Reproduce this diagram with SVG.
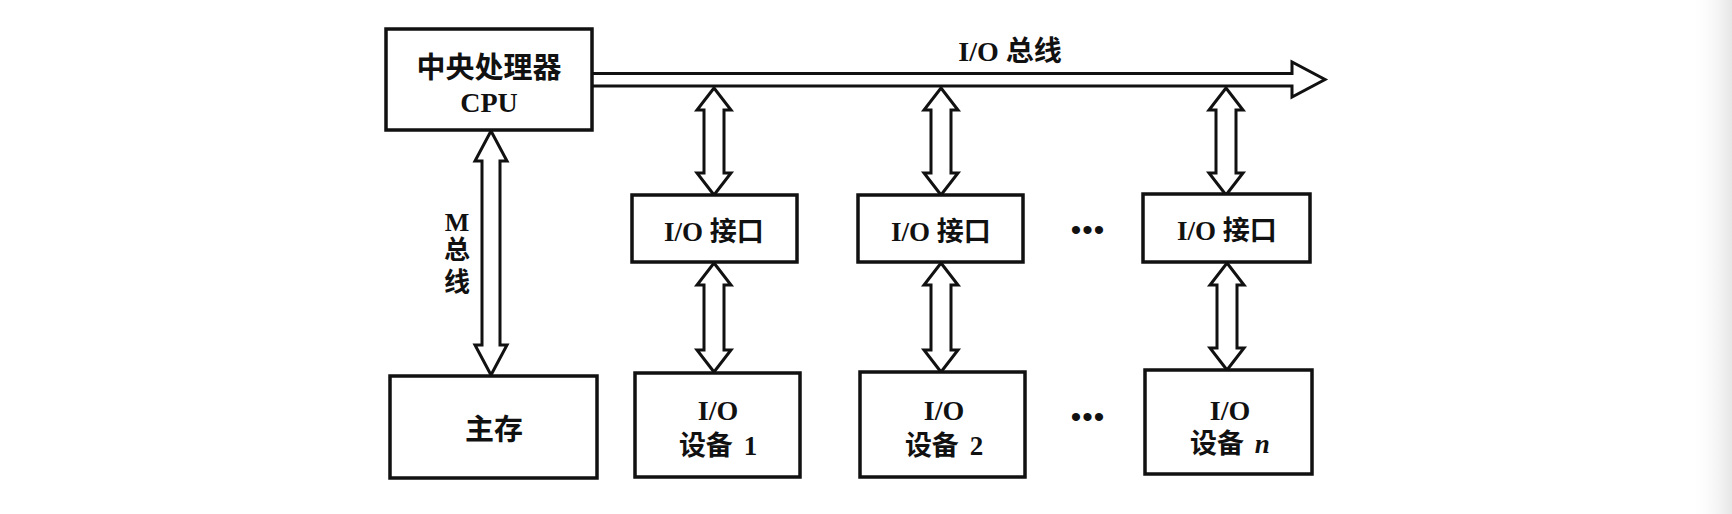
<svg xmlns="http://www.w3.org/2000/svg" width="1732" height="514" viewBox="0 0 1732 514">
<defs>
<linearGradient id="edge" x1="0" y1="0" x2="1" y2="0">
<stop offset="0" stop-color="#ffffff" stop-opacity="0"/>
<stop offset="1" stop-color="#e6e6e6" stop-opacity="1"/>
</linearGradient>
<style>
.box{fill:#fff;stroke:#111;stroke-width:3.5}
.arr{fill:#fff;stroke:#111;stroke-width:3;stroke-linejoin:miter}
.t{font-family:"Liberation Serif","Noto Sans CJK SC",serif;font-weight:bold;fill:#111;text-anchor:middle}
.dots{font-family:"Liberation Sans",sans-serif;fill:#111;text-anchor:middle;letter-spacing:1px}
</style>
</defs>
<rect x="0" y="0" width="1732" height="514" fill="#fff"/>
<rect x="1690" y="0" width="42" height="514" fill="url(#edge)"/>

<g id="connectors">
<path class="arr" d="M592,73.5 L1292,73.5 L1292,62 L1325,79.5 L1292,97 L1292,86 L592,86"/>
<path class="arr" d="M714,88 L731,110 L724,110 L724,173 L731,173 L714,195 L697,173 L704,173 L704,110 L697,110 Z"/>
<path class="arr" d="M941,88 L958,110 L951,110 L951,173 L958,173 L941,195 L924,173 L931,173 L931,110 L924,110 Z"/>
<path class="arr" d="M1226,88 L1243,110 L1236,110 L1236,173 L1243,173 L1226,195 L1209,173 L1216,173 L1216,110 L1209,110 Z"/>
<path class="arr" d="M714,263 L731,285 L724,285 L724,350 L731,350 L714,372 L697,350 L704,350 L704,285 L697,285 Z"/>
<path class="arr" d="M941,263 L958,285 L951,285 L951,350 L958,350 L941,372 L924,350 L931,350 L931,285 L924,285 Z"/>
<path class="arr" d="M1227,263 L1244,285 L1237,285 L1237,348 L1244,348 L1227,370 L1210,348 L1217,348 L1217,285 L1210,285 Z"/>
<path class="arr" d="M491,131 L507,161 L500,161 L500,345 L507,345 L491,375 L475,345 L482,345 L482,161 L475,161 Z"/>
<text class="t" x="1010" y="61" font-size="28">I/O 总线</text>
<text class="t" x="457" y="231" font-size="26">M</text>
<text class="t" x="457" y="259" font-size="26">总</text>
<text class="t" x="457" y="291" font-size="26">线</text>
</g>

<g id="cpu">
<rect class="box" x="386" y="29" width="206" height="101"/>
<text class="t" x="489" y="78" font-size="29">中央处理器</text>
<text class="t" x="489" y="112" font-size="28">CPU</text>
</g>

<g id="memory">
<rect class="box" x="390" y="376" width="207" height="102"/>
<text class="t" x="494" y="440" font-size="29">主存</text>
</g>

<g id="io-if-1">
<rect class="box" x="632" y="195" width="165" height="67"/>
<text class="t" x="714" y="241" font-size="27">I/O 接口</text>
</g>
<g id="io-if-2">
<rect class="box" x="858" y="195" width="165" height="67"/>
<text class="t" x="941" y="241" font-size="27">I/O 接口</text>
</g>
<g id="io-if-n">
<rect class="box" x="1143" y="194" width="167" height="68"/>
<text class="t" x="1227" y="240" font-size="27">I/O 接口</text>
</g>

<g id="io-dev-1">
<rect class="box" x="635" y="373" width="165" height="104"/>
<text class="t" x="718" y="420" font-size="28">I/O</text>
<text class="t" x="718" y="455" font-size="27">设备 <tspan dx="4">1</tspan></text>
</g>
<g id="io-dev-2">
<rect class="box" x="860" y="372" width="165" height="105"/>
<text class="t" x="944" y="420" font-size="28">I/O</text>
<text class="t" x="944" y="455" font-size="27">设备 <tspan dx="4">2</tspan></text>
</g>
<g id="io-dev-n">
<rect class="box" x="1145" y="370" width="167" height="104"/>
<text class="t" x="1230" y="420" font-size="28">I/O</text>
<text class="t" x="1230" y="453" font-size="27">设备 <tspan dx="4" font-style="italic">n</tspan></text>
</g>

<g id="ellipsis-1">
<text class="dots" x="1088" y="240" font-size="30">•••</text>
</g>
<g id="ellipsis-2">
<text class="dots" x="1088" y="427" font-size="30">•••</text>
</g>
</svg>
